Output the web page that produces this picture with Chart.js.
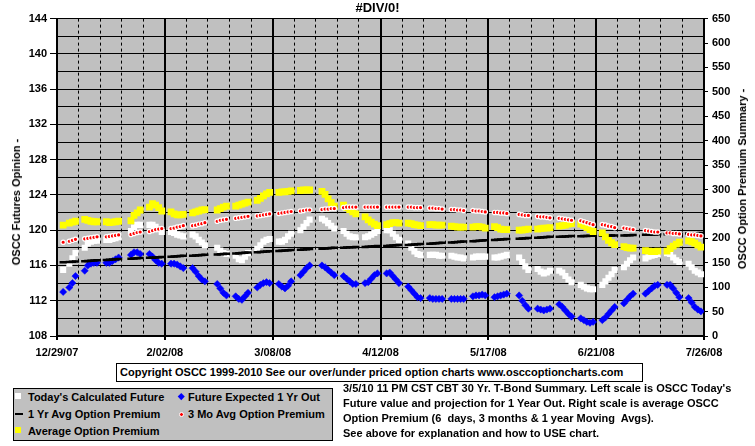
<!DOCTYPE html>
<html><head><meta charset="utf-8">
<script src="https://cdn.jsdelivr.net/npm/chart.js@4.4.1/dist/chart.umd.min.js"></script>
<style>
html,body{margin:0;padding:0;background:#fff;}
#wrap{position:relative;width:755px;height:446px;overflow:hidden;font-family:"Liberation Sans",Arial,sans-serif;font-weight:bold;font-size:11px;color:#000;}
#c{position:absolute;left:0;top:0;}
.rot{position:absolute;white-space:nowrap;transform:translate(-50%,-50%) rotate(-90deg);}
#copy{position:absolute;left:116px;top:363px;width:527px;height:19px;box-sizing:border-box;border:1px solid #000;background:#fff;line-height:17px;padding-left:3px;white-space:nowrap;}
#legend{position:absolute;left:13px;top:388px;width:320px;height:53px;box-sizing:border-box;border:1px solid #000;background:#c0c0c0;}
.li{position:absolute;white-space:nowrap;line-height:13px;}
.mk{position:absolute;}
#notes{position:absolute;left:343px;top:381px;line-height:15px;white-space:pre;}
</style></head><body>
<div id="wrap">
<canvas id="c" width="755" height="446"></canvas>
<div class="rot" style="left:16px;top:202px;">OSCC Futures Opinion -</div>
<div class="rot" style="left:742px;top:179px;">OSCC Option Premium Summary -</div>
<div id="copy">Copyright OSCC 1999-2010 See our over/under priced option charts www.osccoptioncharts.com</div>
<div id="legend">
  <div class="mk" style="left:1px;top:4px;width:6px;height:6px;background:#fff;"></div>
  <div class="li" style="left:14px;top:1.5px;">Today's Calculated Future</div>
  <div class="mk" style="left:164.7px;top:5.2px;width:4.5px;height:4.5px;background:#0000ff;transform:rotate(45deg);"></div>
  <div class="li" style="left:174px;top:1.5px;">Future Expected 1 Yr Out</div>
  <div class="mk" style="left:1px;top:24px;width:8px;height:2px;background:#000;"></div>
  <div class="li" style="left:14px;top:18.5px;">1 Yr Avg Option Premium</div>
  <div class="mk" style="left:164.5px;top:22.5px;width:3px;height:3px;border:1px solid #fff;border-radius:50%;background:#ff0000;"></div>
  <div class="li" style="left:174px;top:18.5px;">3 Mo Avg Option Premium</div>
  <div class="mk" style="left:1px;top:38px;width:6px;height:6px;background:#ffff00;"></div>
  <div class="li" style="left:14px;top:35.5px;">Average Option Premium</div>
</div>
<div id="notes">3/5/10 11 PM CST CBT 30 Yr. T-Bond Summary. Left scale is OSCC Today's
Future value and projection for 1 Year Out. Right scale is average OSCC
Option Premium (6  days, 3 months &amp; 1 year Moving  Avgs).
See above for explanation and how to USE chart.</div>
</div>
<script>
// x tick labels every 35 days starting 12/29/07
const xTickLabels = ['12/29/07','2/02/08','3/08/08','4/12/08','5/17/08','6/21/08','7/26/08'];

// trading days, as day offsets from 12/29/07
const tradeDays = [
  2,4,5,6,
  9,10,11,12,13,
  16,17,18,19,20,
  24,25,26,27,
  30,31,32,33,34,
  37,38,39,40,41,
  44,45,46,47,48,
  52,53,54,55,
  58,59,60,61,62,
  65,66,67,68,69,
  72,73,74,75,76,
  79,80,81,82,
  86,87,88,89,90,
  93,94,95,96,97,
  100,101,102,103,104,
  107,108,109,110,111,
  114,115,116,117,118,
  121,122,123,124,125,
  128,129,130,131,132,
  135,136,137,138,139,
  142,143,144,145,146,
  150,151,152,153,
  156,157,158,159,160,
  163,164,165,166,167,
  170,171,172,173,174,
  177,178,179,180,181,
  184,185,186,187,
  191,192,193,194,195,
  198,199,200,201,202,
  205,206,207,208,209
];

// Today's Calculated Future (left scale)
const todaysFuture = [
  115.5,116.2,116.8,117.4,
  118.0,118.5,118.7,118.8,118.8,
  118.9,118.9,119.0,119.1,119.2,
  119.9,120.3,120.6,120.6,
  120.6,120.6,120.4,120.1,119.8,
  119.8,119.7,119.5,119.4,119.3,
  119.5,119.3,118.9,118.6,118.3,
  118.0,117.7,117.4,117.3,
  117.1,116.7,116.6,117.0,117.4,
  117.9,118.3,118.7,118.9,119.0,
  118.7,118.7,118.9,119.3,119.6,
  120.0,120.4,120.8,121.2,
  121.3,121.1,120.8,120.5,120.2,
  119.9,119.6,119.3,119.2,119.2,
  119.2,119.3,119.5,119.7,119.9,
  120.0,120.0,119.6,119.2,118.9,
  118.5,118.0,117.6,117.3,117.2,
  117.2,117.2,117.2,117.1,117.1,
  117.1,117.0,116.9,116.9,116.8,
  116.9,117.0,117.0,117.0,117.0,
  116.9,116.9,117.0,117.1,117.2,
  116.9,116.4,115.9,115.5,
  115.6,115.3,115.1,115.2,115.4,
  115.4,115.2,114.8,114.4,114.1,
  113.8,113.6,113.4,113.3,113.3,
  113.8,114.2,114.6,115.0,115.5,
  115.8,116.2,116.6,116.9,
  116.8,117.0,117.1,117.2,117.3,
  117.4,117.3,116.9,116.6,116.4,
  116.2,115.8,115.4,115.2,115.0
];

// Future Expected 1 Yr Out (left scale)
const futureOneYr = [
  113.0,113.5,114.0,114.8,
  115.4,116.0,116.2,116.3,116.3,
  116.3,116.3,116.5,116.7,116.9,
  117.2,117.5,117.5,117.3,
  117.3,117.0,116.6,116.3,116.2,
  116.2,116.2,116.1,115.9,115.7,
  115.7,115.3,114.8,114.4,114.2,
  113.9,113.4,112.9,112.6,
  112.5,112.2,112.1,112.5,112.9,
  113.5,113.8,114.0,114.1,114.0,
  113.9,113.6,113.4,113.7,114.2,
  114.9,115.3,115.7,116.0,
  116.0,115.8,115.5,115.2,114.9,
  114.8,114.5,114.2,113.9,113.9,
  114.0,114.1,114.5,114.9,115.1,
  115.1,115.2,114.8,114.4,114.0,
  113.6,113.2,112.8,112.4,112.3,
  112.3,112.2,112.2,112.2,112.2,
  112.2,112.2,112.2,112.2,112.2,
  112.5,112.6,112.6,112.7,112.6,
  112.4,112.5,112.6,112.7,112.8,
  112.6,112.0,111.5,111.1,
  111.1,111.0,110.9,111.0,111.1,
  111.6,111.3,110.9,110.5,110.2,
  110.0,109.8,109.6,109.5,109.6,
  109.8,110.1,110.5,110.9,111.3,
  111.7,112.1,112.5,112.8,
  112.8,113.1,113.4,113.7,113.8,
  113.8,113.8,113.4,112.9,112.4,
  112.3,111.8,111.3,111.0,110.8
];

// 1 Yr Avg Option Premium (right scale)
const oneYrAvgPremium = [
  151,151.5,152,152.5,
  153,153.5,154,154.5,155,
  155.5,156,156.5,157,157.5,
  158,158.5,159,159.5,
  160,160.5,161,161.5,162,
  162.5,163,163.5,164,164.5,
  164.5,165,165.5,166,166.5,
  167,167.5,168,168.5,
  169,169.5,170,170.5,171,
  171.5,172,172.5,173,173.5,
  174,174.5,175,175.5,176,
  176.5,177,177.5,178,
  178.5,179,179.5,180,180.5,
  180.5,181,181.5,182,182.5,
  182.5,183,183.5,184,184.5,
  184.5,185,185.5,186,186.5,
  186.5,187,187.5,188,188.5,
  189,189.5,190,190.5,191,
  191.5,192,192.5,193,193.5,
  194,194.5,195,195.5,196,
  196.5,197,197.5,198,198.5,
  199,199.5,200,200.5,
  201,201.5,202,202.5,203,
  203,203.5,204,204.5,205,
  204.5,205,205,205.5,205.5,
  205.5,205.5,206,206,206,
  206,206.5,206.5,207,
  207.5,207.5,208,208,208.5,
  208.5,209,209,209.5,209.5,
  210,210,210.5,210.5,211
];

// 3 Mo Avg Option Premium (right scale)
const threeMoAvgPremium = [
  192,194,196,198,
  199,200,201,202,203,
  203,204,205,206,207,
  208,210,212,213,
  214,216,218,219,220,
  220,221,223,224,226,
  226,227,229,230,232,
  235,237,238,239,
  241,242,243,244,245,
  246,247,248,249,250,
  251,252,253,254,255,
  256,257,258,258,
  259,260,260,261,261,
  263,264,264,264,264,
  264,264,264,264,264,
  264,264,264,264,264,
  264,264,263,263,263,
  262,262,261,261,260,
  259,259,258,258,257,
  257,256,256,255,254,
  253,253,252,252,251,
  249,248,247,247,
  245,244,244,243,242,
  241,240,239,238,237,
  236,234,232,230,228,
  228,227,225,224,222,
  221,220,219,218,
  216,215,214,213,213,
  211,211,210,210,209,
  208,207,207,206,205
];

// Average Option Premium (right scale)
const avgPremium = [
  227,231,233,235,
  239,237,235,234,234,
  234,232,233,234,235,
  236,247,252,258,
  264,271,268,263,256,
  254,250,248,248,249,
  252,254,256,258,259,
  258,261,264,266,
  266,268,270,272,274,
  278,282,287,291,294,
  294,295,295,296,297,
  298,299,299,299,
  296,290,281,273,266,
  268,263,259,254,250,
  244,238,233,229,226,
  228,230,232,232,231,
  231,230,228,227,226,
  228,228,227,227,227,
  225,224,223,223,223,
  223,224,224,223,221,
  224,222,219,218,218,
  217,217,218,219,
  219,220,221,221,222,
  225,226,227,229,230,
  229,226,222,218,214,
  211,203,196,191,187,
  183,181,180,180,
  175,174,173,173,174,
  174,179,184,188,192,
  195,193,190,186,182
];

function pts(vals){ return tradeDays.map((d,i)=>({x:d,y:vals[i]})); }

const bgPlugin = {
  id:'bg',
  beforeDraw(chart){
    const {ctx, chartArea:a} = chart;
    ctx.save();
    ctx.fillStyle='#fff'; ctx.fillRect(0,0,chart.width,chart.height);
    ctx.fillStyle='#c0c0c0'; ctx.fillRect(a.left,a.top,a.right-a.left,a.bottom-a.top);
    ctx.restore();
  }
};

const FONT = {family:'"Liberation Sans", Arial, sans-serif', size:11, weight:'bold'};
const isMajorX = ctx => ctx.tick && Math.round(ctx.tick.value) % 35 === 0;

new Chart(document.getElementById('c'), {
  type:'scatter',
  data:{datasets:[
    {label:"Today's Calculated Future", data:pts(todaysFuture), yAxisID:'y', pointStyle:'rect', pointRadius:4.3, backgroundColor:'#ffffff', borderColor:'#ffffff', borderWidth:0, order:5},
    {label:'Future Expected 1 Yr Out', data:pts(futureOneYr), yAxisID:'y', pointStyle:'rectRot', pointRadius:3.6, backgroundColor:'#0000ff', borderColor:'#0000ff', borderWidth:0.5, order:4},
    {label:'1 Yr Avg Option Premium', data:pts(oneYrAvgPremium), yAxisID:'y1', pointStyle:'line', pointRadius:3.6, backgroundColor:'#000', borderColor:'#000', borderWidth:2.5, order:3},
    {label:'3 Mo Avg Option Premium', data:pts(threeMoAvgPremium), yAxisID:'y1', pointStyle:'circle', pointRadius:2.2, backgroundColor:'#ff0000', borderColor:'#ffffff', borderWidth:1.2, order:1},
    {label:'Average Option Premium', data:pts(avgPremium), yAxisID:'y1', pointStyle:'rect', pointRadius:4.8, backgroundColor:'#ffff00', borderColor:'#ffff00', borderWidth:0, order:2}
  ]},
  options:{
    responsive:false, animation:false, devicePixelRatio:1,
    layout:{padding:{left:0,right:0,top:0,bottom:84}},
    plugins:{
      legend:{display:false}, tooltip:{enabled:false},
      title:{display:true, text:'#DIV/0!', color:'#000', font:{family:FONT.family,size:13,weight:'bold'}, padding:{top:1,bottom:2}}
    },
    scales:{
      x:{
        type:'linear', position:'bottom', min:0, max:210,
        afterFit:s=>{s.height=26;},
        ticks:{stepSize:7, autoSkip:false, maxRotation:0, padding:6, color:'#000', font:FONT,
          callback:v=> (Math.round(v)%35===0) ? xTickLabels[Math.round(v)/35] : ''},
        grid:{color:'#000', lineWidth:ctx=>isMajorX(ctx)?2:1, tickLength:4,
          tickColor:ctx=>isMajorX(ctx)?'#000':'rgba(0,0,0,0)'},
        border:{display:true, color:'#000', width:2, dash:ctx=>(ctx.tick && !isMajorX(ctx))?[3,3]:[]}
      },
      y:{
        type:'linear', position:'left', min:108, max:144,
        afterFit:s=>{s.width=57;},
        ticks:{stepSize:2, autoSkip:false, padding:3, color:'#000', font:FONT,
          callback:v=> (Math.round(v)%4===0) ? v : ''},
        grid:{color:'#000', lineWidth:1, tickLength:7,
          tickColor:ctx=>(ctx.tick && Math.round(ctx.tick.value)%4===0)?'#000':'rgba(0,0,0,0)'},
        border:{display:true, color:'#000', width:2}
      },
      y1:{
        type:'linear', position:'right', min:0, max:650,
        afterFit:s=>{s.width=51;},
        ticks:{stepSize:50, autoSkip:false, padding:4, color:'#000', font:FONT},
        grid:{drawOnChartArea:false, color:'#000', tickLength:4, tickColor:'#000'},
        border:{display:true, color:'#000', width:2}
      }
    }
  },
  plugins:[bgPlugin]
});
</script>
</body></html>
